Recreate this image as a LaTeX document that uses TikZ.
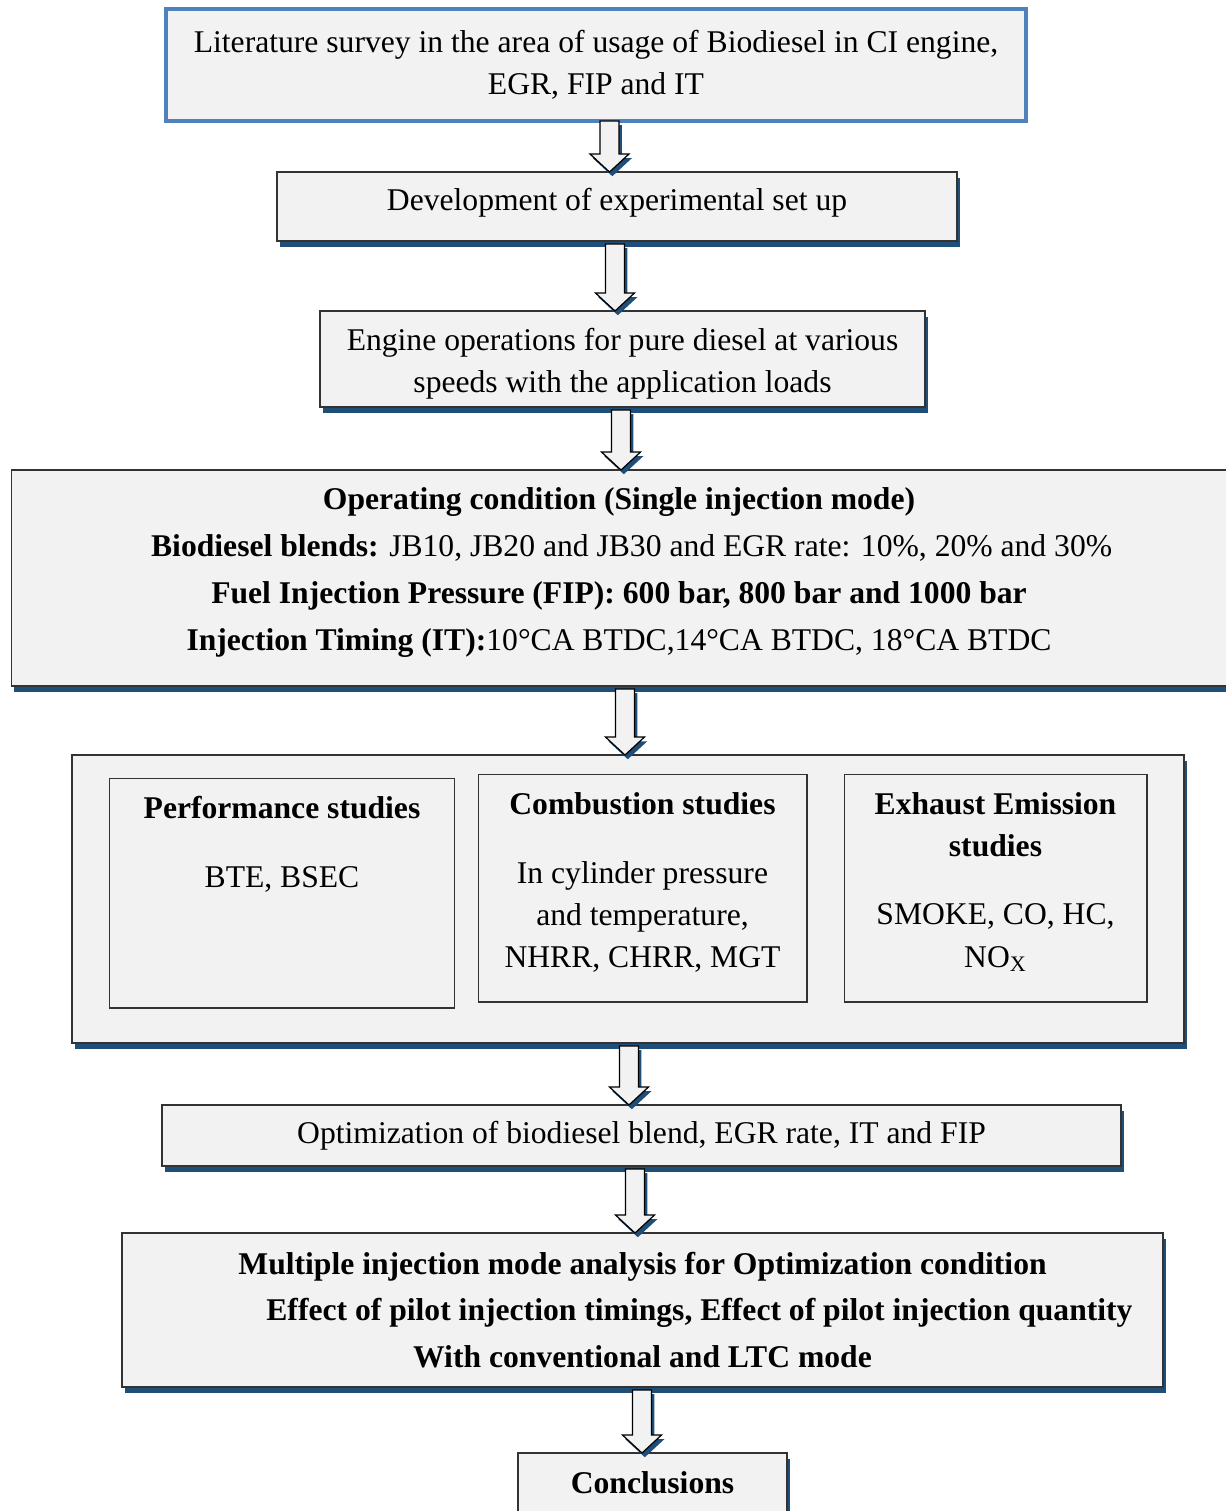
\documentclass[tikz,border=0pt]{standalone}
\usepackage{fontspec}
\setmainfont{Liberation Serif}
\usetikzlibrary{calc,shadows}
\definecolor{panel}{HTML}{F2F2F2}
\definecolor{shadowblue}{HTML}{1F4E79}
\definecolor{edgeblue}{HTML}{4F81BD}
\tikzset{
  box/.style={draw=black!80, line width=0.7pt, fill=panel, inner sep=0pt, outer sep=0pt, align=center,
    font=\fontsize{18}{24}\selectfont},
  shadowbox/.style={box, drop shadow={shadow xshift=1.6pt, shadow yshift=-3.2pt, fill=shadowblue, opacity=1}},
  subbox/.style={draw=black!80, line width=0.6pt, fill=panel, inner sep=0pt, outer sep=0pt},
  boxtext/.style={align=center, inner sep=0pt, font=\fontsize{18}{24}\selectfont},
  flowarrow/.style={draw=black, line width=0.7pt, fill=panel, line join=miter,
    drop shadow={shadow xshift=1.6pt, shadow yshift=-2.4pt, fill=shadowblue, opacity=1}}
}
% block arrow: x position, gap below the upper box, upper node, lower node
\newcommand{\flowdown}[4]{%
  \coordinate (ax) at (#1,0);
  \coordinate (atop) at ($(ax |- #3.south)+(0,#2)$);
  \coordinate (atip) at (ax |- #4.north);
  \draw[flowarrow] ($(atop)+(-9.5,0)$) -- ($(atop)+(9.5,0)$) -- ($(atip)+(9.5,-18)$)
    -- ($(atip)+(19.5,-18)$) -- (atip) -- ($(atip)+(-19.5,-18)$) -- ($(atip)+(-9.5,-18)$) -- cycle;
}
\begin{document}
\begin{tikzpicture}[x=0.02cm, y=-0.02cm]
    \useasboundingbox (0,0) rectangle (1226,1511);

    \node[box, draw=edgeblue, line width=2.2pt, minimum width=17.2cm, minimum height=2.24cm] (lit) at (596,65)
        {Literature survey in the area of usage of Biodiesel in CI engine,\\ EGR, FIP and IT};
    \node[shadowbox, minimum width=13.6cm, minimum height=1.38cm] (dev) at (617,206.5) {};
    \node[boxtext] (devtext) at (617,203) {Development of experimental set up};
    \node[shadowbox, minimum width=12.1cm, minimum height=1.92cm] (eng) at (622.5,359) {};
    \node[boxtext] (engtext) at (622.5,364) {Engine operations for pure diesel at various\\ speeds with the application loads};
    \node[shadowbox, minimum width=24.56cm, minimum height=4.32cm] (opc) at (625,578) {};
    \node[boxtext, font=\fontsize{18}{26.7}\selectfont] (opctext) at (619,572.5)
        {\textbf{Operating condition (Single injection mode)}\\
         \hspace*{0.8em}\textbf{Biodiesel blends:} JB10, JB20 and JB30 and EGR rate: 10\%, 20\%\ and 30\%\\
         \textbf{Fuel Injection Pressure (FIP): 600 bar, 800 bar and 1000 bar}\\
         \textbf{Injection Timing (IT):}10°CA BTDC,14°CA BTDC, 18°CA BTDC};

    \node[shadowbox, minimum width=22.24cm, minimum height=5.76cm] (stud) at (628,899) {};
    \node[subbox, minimum width=6.92cm, minimum height=4.6cm] (perf) at (282,893) {};
    \node[subbox, minimum width=6.58cm, minimum height=4.56cm] (comb) at (642.5,888) {};
    \node[subbox, minimum width=6.06cm, minimum height=4.56cm] (exh) at (995.5,888) {};
    \node[boxtext] (perftext) at (282,844.5) {\textbf{Performance studies}\\[15pt] BTE, BSEC};
    \node[boxtext] (combtext) at (642.5,882.5)
        {\textbf{Combustion studies}\\[15pt] In cylinder pressure\\ and temperature,\\ NHRR, CHRR, MGT};
    \node[boxtext] (exhtext) at (995.5,882)
        {\textbf{Exhaust Emission}\\ \textbf{studies}\\[15pt] SMOKE, CO, HC,\\ NO\textsubscript{X}};

    \node[shadowbox, minimum width=19.18cm, minimum height=1.22cm] (opt) at (641.5,1135.5)
        {Optimization of biodiesel blend, EGR rate, IT and FIP};
    \node[shadowbox, font=\fontsize{18}{26.7}\selectfont\bfseries, minimum width=20.82cm, minimum height=3.08cm] (mul) at (642.5,1310)
        {Multiple injection mode analysis for Optimization condition\\
         \hspace*{3.6em}Effect of pilot injection timings, Effect of pilot injection quantity\\
         With conventional and LTC mode};
    \node[shadowbox, font=\fontsize{18}{24}\selectfont\bfseries, minimum width=5.38cm, minimum height=1.2cm] (con) at (652.5,1483)
        {Conclusions};

    \flowdown{609.5}{0}{lit}{dev}
    \flowdown{615}{3}{dev}{eng}
    \flowdown{621}{3}{eng}{opc}
    \flowdown{625}{3}{opc}{stud}
    \flowdown{629}{3}{stud}{opt}
    \flowdown{635}{3}{opt}{mul}
    \flowdown{642}{3}{mul}{con}
\end{tikzpicture}
\end{document}
